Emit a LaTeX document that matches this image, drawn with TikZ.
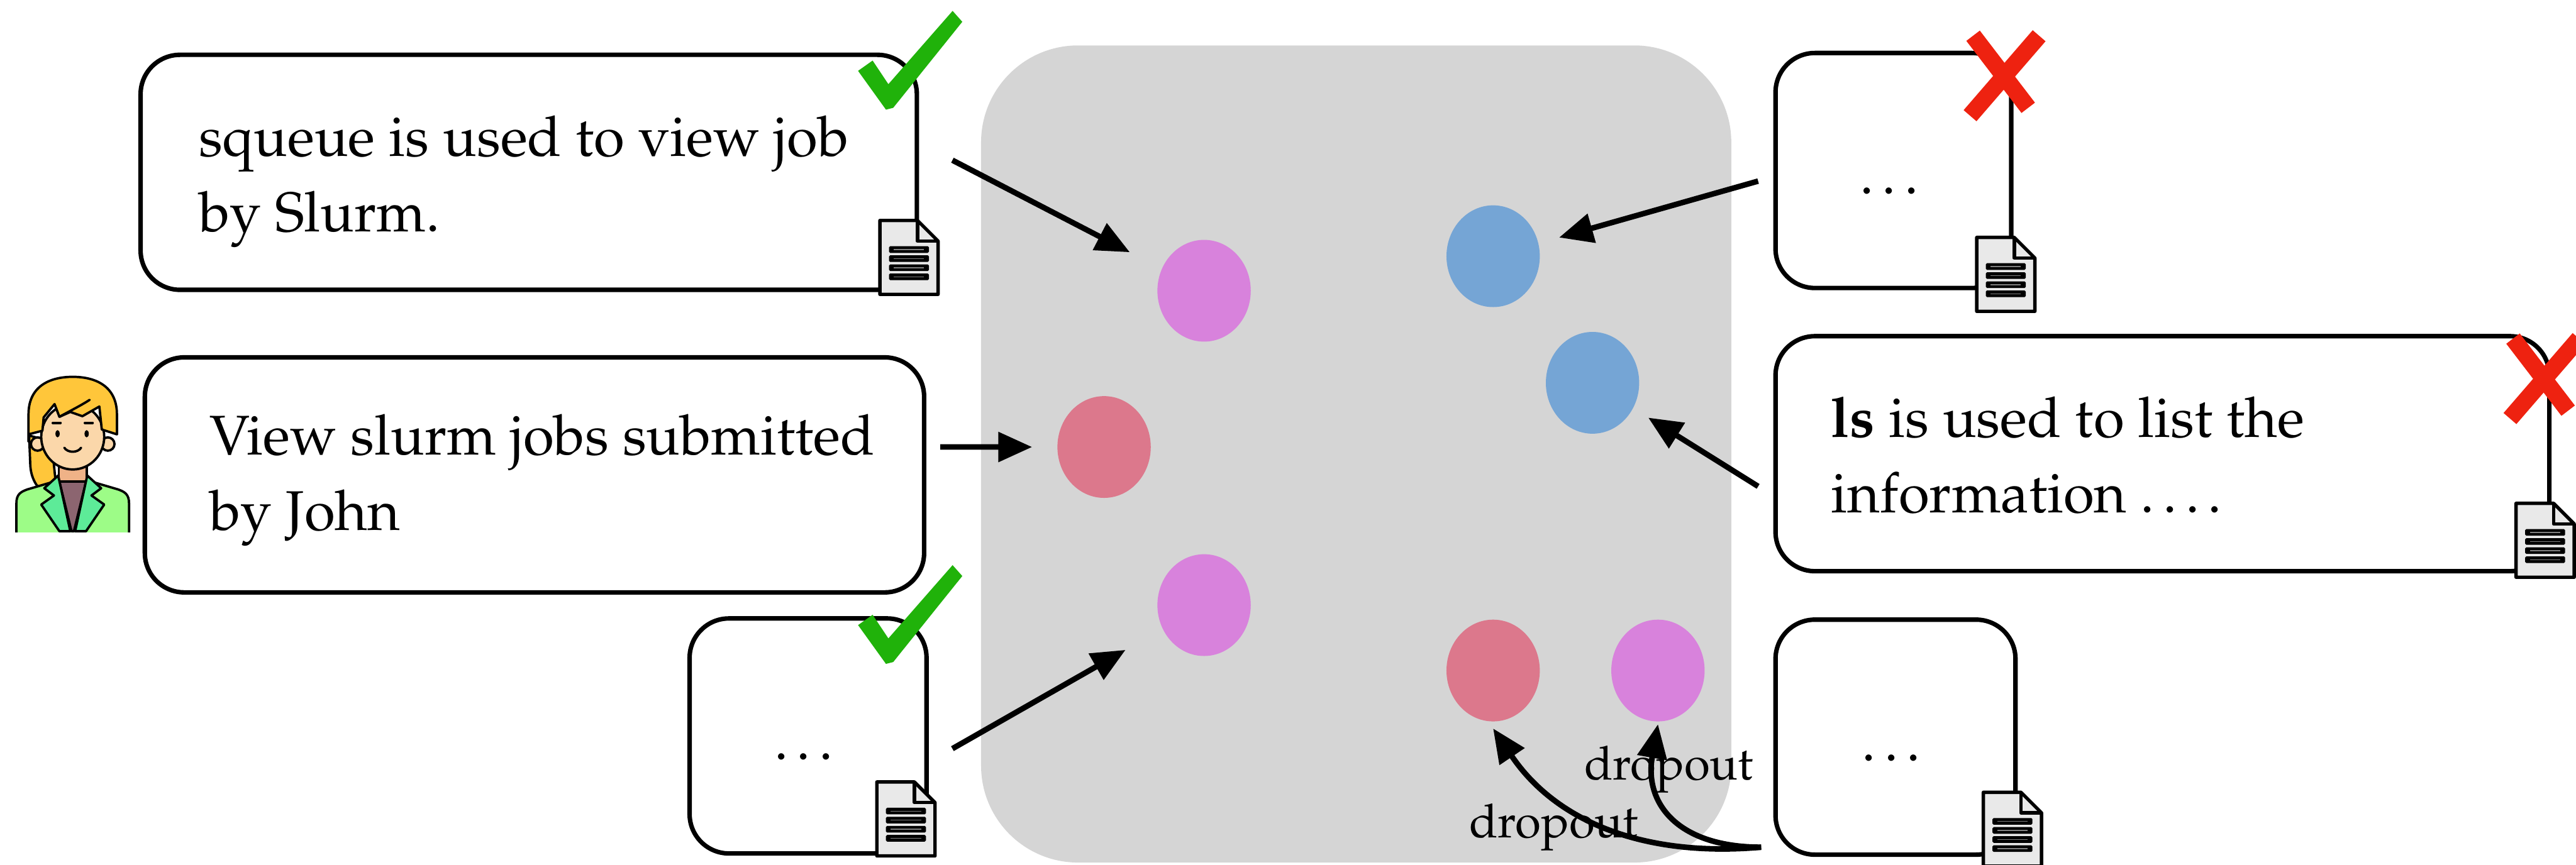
\documentclass[tikz,border=0pt]{standalone}
\usepackage[T1]{fontenc}
\usepackage{mathpazo}
\usetikzlibrary{shapes.geometric, arrows.meta}

\definecolor{panelgray}{RGB}{213,213,213}
\definecolor{orchid}{RGB}{216,130,220}
\definecolor{rose}{RGB}{220,120,140}
\definecolor{skyblue}{RGB}{117,165,213}
\definecolor{docgray}{RGB}{233,233,233}
\definecolor{okgreen}{RGB}{32,178,10}
\definecolor{nogo}{RGB}{238,34,16}
\definecolor{hairgold}{RGB}{255,198,58}
\definecolor{skin}{RGB}{251,215,170}
\definecolor{neck}{RGB}{239,178,135}
\definecolor{jacket}{RGB}{157,252,135}
\definecolor{lapel}{RGB}{93,235,152}
\definecolor{shirt}{RGB}{140,101,112}

\newcommand{\cardfont}{\fontsize{26.3}{35.4}\selectfont}

\tikzstyle{card} = [rectangle, draw, fill=white, rounded corners=0.65cm, line width=2.1pt, minimum height=3.88cm, inner sep=0pt]
\tikzstyle{cardtext} = [align=left, inner sep=0pt, font=\cardfont]
\tikzstyle{blob} = [ellipse, minimum width=1.54cm, minimum height=1.68cm, inner sep=0pt]
\tikzstyle{arr} = [-{Triangle[length=0.56cm, width=0.48cm]}, line width=2.6pt]
\tikzstyle{droplabel} = [anchor=base, inner sep=0pt, font=\fontsize{22}{26}\selectfont]

% little page icon, green tick and red cross
\tikzset{
  docicon/.pic={
    \draw[line width=1.6pt, line join=round, fill=docgray] (-0.48,-0.61) -- (-0.48,0.61) -- (0.14,0.61) -- (0.48,0.27) -- (0.48,-0.61) -- cycle;
    \draw[line width=1.6pt, line join=round] (0.14,0.61) -- (0.14,0.27) -- (0.48,0.27);
    \foreach \y in {0.13,-0.02,-0.17,-0.32} {
      \fill[rounded corners=0.02cm] (-0.33,\y-0.055) rectangle (0.33,\y+0.055);
      \draw[gray, line width=0.4pt] (-0.25,\y) -- (0.25,\y);
    }
  },
  okmark/.pic={
    \fill[okgreen] (-0.50,0.62) -- (-0.26,0.79) -- (0.0,0.40) -- (1.06,1.61) -- (1.22,1.43) -- (0.08,0.01) -- (-0.04,-0.02) -- cycle;
  },
  nomark/.pic={
    \draw[nogo, line width=0.28cm] (-0.49,0.66) -- (0.42,-0.53);
    \draw[nogo, line width=0.28cm] (0.60,0.66) -- (-0.54,-0.66);
  }
}

\begin{document}
\begin{tikzpicture}
\useasboundingbox (0,0) rectangle (42.51,14.28);

% embedding space
\fill[panelgray, rounded corners=1.6cm] (16.19,0.04) rectangle (28.57,13.53);

\node[blob, fill=orchid] (o1) at (19.87,9.48) {};
\node[blob, fill=rose] (p1) at (18.22,6.90) {};
\node[blob, fill=orchid] (o2) at (19.87,4.29) {};
\node[blob, fill=skyblue] (b1) at (24.64,10.05) {};
\node[blob, fill=skyblue] (b2) at (26.28,7.96) {};
\node[blob, fill=rose] (p2) at (24.64,3.21) {};
\node[blob, fill=orchid] (o3) at (27.36,3.21) {};

% left column: positives and the query
\node[card, minimum width=12.81cm] (c1) at (8.725,11.435) {};
\node[cardtext, anchor=north west] (c1t) at ([shift={(0.99,-0.83)}]c1.north west) {\strut squeue is used to view job\\by Slurm.};
\node[card, minimum width=12.86cm] (c2) at (8.82,6.44) {};
\node[cardtext, anchor=north west] (c2t) at ([shift={(1.10,-0.77)}]c2.north west) {\strut View slurm jobs submitted\\by John};
\node[card, minimum width=3.91cm] (c3) at (13.335,2.13) {};
\node[cardtext, anchor=base] (c3t) at ([yshift=-0.39cm]c3.center) {\ldots};

% right column: negatives
\node[card, minimum width=3.89cm] (r1) at (31.245,11.465) {};
\node[cardtext, anchor=base] (r1t) at ([yshift=-0.39cm]r1.center) {\ldots};
\node[card, minimum width=12.77cm] (r2) at (35.685,6.79) {};
\node[cardtext, anchor=north west] (r2t) at ([shift={(0.95,-0.83)}]r2.north west) {\strut\textbf{ls} is used to list the\\information \ldots.};
\node[card, minimum width=3.96cm] (r3) at (31.28,2.11) {};
\node[cardtext, anchor=base] (r3t) at ([yshift=-0.39cm]r3.center) {\ldots};

\node[droplabel] (d1) at (25.64,0.45) {dropout};
\node[droplabel] (d2) at (27.54,1.41) {dropout};

% encoder arrows
\draw[arr, shorten >=0.59cm] ([shift={(0.55,0.2)}]c1.east) -- (o1);
\draw[arr, shorten >=0.41cm] ([shift={(0.23,0.46)}]c2.east) -- (p1);
\draw[arr, shorten >=0.70cm] ([shift={(0.39,-0.21)}]c3.east) -- (o2);
\draw[arr, shorten >=0.35cm] ([shift={(-0.25,-0.175)}]r1.west) -- (b1);
\draw[arr, shorten >=0.29cm] ([shift={(-0.25,-0.54)}]r2.west) -- (b2);
\draw[arr] ([shift={(-0.2,0.16)}]r3.south west) to[out=185, in=-56] ([yshift=-0.11cm]p2.south);
\draw[arr] ([shift={(-0.2,0.16)}]r3.south west) to[out=180, in=-100, looseness=1.3] ([yshift=-0.04cm]o3.south);

% documents, ticks and crosses
\pic at (15.00,10.03) {docicon};
\pic at (14.95,0.76) {docicon};
\pic at (33.10,9.75) {docicon};
\pic at (42.00,5.36) {docicon};
\pic at (33.21,0.59) {docicon};
\pic at (14.66,12.49) {okmark};
\pic at (14.66,3.34) {okmark};
\pic at (33.05,13.03) {nomark};
\pic at (41.96,8.03) {nomark};

% the user
\begin{scope}[shift={(1.20,5.49)}, x=0.01cm, y=0.01cm, line width=1.1pt, line join=round]
  \filldraw[fill=hairgold] (-72,160) -- (-70,110) .. controls (-69,95) and (-64,84) .. (-58,76) -- (-28,82) -- (-35,150) -- cycle;
  \fill[jacket] (-93,0) -- (-93,48) .. controls (-93,63) and (-86,67) .. (-75,71) -- (-24,86) -- (24,86) -- (75,71) .. controls (86,67) and (93,63) .. (93,48) -- (93,0) -- cycle;
  \draw (-93,0) -- (-93,48) .. controls (-93,63) and (-86,67) .. (-75,71) -- (-24,86) -- (24,86) -- (75,71) .. controls (86,67) and (93,63) .. (93,48) -- (93,0);
  \filldraw[fill=neck] (-23,80) rectangle (23,120);
  \filldraw[fill=shirt] (-22,84) -- (22,84) -- (2,2) -- (-2,2) -- cycle;
  \filldraw[fill=lapel] (-24,94) -- (-47,73) -- (-31,61) -- (-52,46) -- (-22,2) -- (-4,2) -- cycle;
  \filldraw[fill=lapel] (24,94) -- (47,73) -- (31,61) -- (52,46) -- (22,2) -- (4,2) -- cycle;
  \filldraw[fill=skin] (-58,146) circle (11);
  \filldraw[fill=skin] (58,146) circle (11);
  \filldraw[fill=skin] (0,158) ellipse [x radius=52, y radius=54];
  \filldraw[fill=hairgold] (-73,150) -- (-73,195) .. controls (-73,240) and (-40,257) .. (0,257) .. controls (40,257) and (73,240) .. (73,195) -- (73,162) -- (48,170) -- (44,208) -- (16,192) -- (-4,199) -- (-22,191) -- (-30,212) -- (-48,190) -- (-50,168) -- (-73,162) -- cycle;
  \draw[line cap=round] (-22,191) .. controls (0,203) and (14,210) .. (28,219);
  \fill (-25,163) ellipse [x radius=3.5, y radius=6];
  \fill (23,163) ellipse [x radius=3.5, y radius=6];
  \draw[line cap=round] (-33,181) -- (-20,181) (20,181) -- (33,181);
  \draw[line cap=round] (-14,140) .. controls (-8,131) and (8,131) .. (14,140);
\end{scope}
\end{tikzpicture}
\end{document}
